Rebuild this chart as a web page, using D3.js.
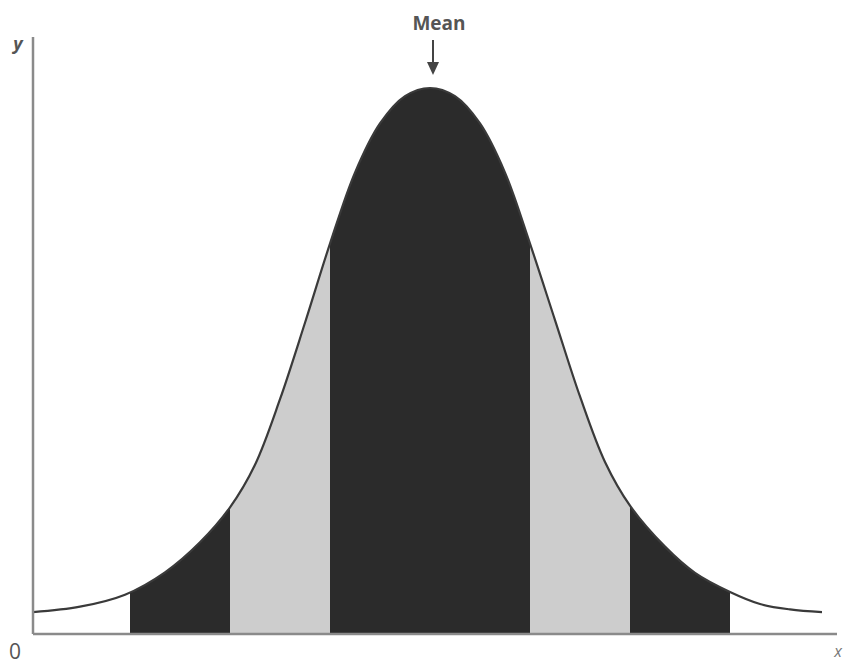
<!DOCTYPE html>
<html>
<head>
<meta charset="utf-8">
<script src="https://cdn.jsdelivr.net/npm/d3@7"></script>
<style>
  body { margin: 0; background: #fff; }
  svg { display: block; font-family: "Open Sans", "DejaVu Sans", sans-serif; }
</style>
</head>
<body>
<svg class="chart"></svg>
<script>
// curve: distance from the mean (in SD) and relative height
const curveZ = [-3.97, -3.5, -3.05, -2.65, -2.3, -2.0, -1.75, -1.5, -1.25, -1.0, -0.75, -0.5, -0.25, 0,
  0.25, 0.5, 0.75, 1.0, 1.25, 1.5, 1.75, 2.0, 2.35, 2.65, 3.0, 3.3, 3.6, 3.92];
const curveH = [0.040, 0.050, 0.072, 0.113, 0.168, 0.232, 0.310, 0.430, 0.570, 0.715, 0.845, 0.935, 0.985, 1.0,
  0.985, 0.935, 0.845, 0.715, 0.575, 0.435, 0.315, 0.235, 0.160, 0.112, 0.077, 0.055, 0.045, 0.040];

// shaded bands (SD edges) and their shades
const bandFrom = [-3, -2, -1, 1, 2];
const bandTo = [-2, -1, 1, 2, 3];
const bandShade = ['dark', 'light', 'dark', 'light', 'dark'];

const axisLabels = { origin: '0', x: 'x', y: 'y', mean: 'Mean' };

const width = 844;
const height = 664;

const svg = d3.select('svg.chart')
  .attr('width', width)
  .attr('height', height);

//Scales
const x = d3.scaleLinear().domain([-3.97, 4.07]).range([33, 837]);
const y = d3.scaleLinear().domain([0, 1]).range([634, 88]);

const points = curveZ.map((z, i) => ({ z: z, h: curveH[i] }));

const line = d3.line()
  .x(d => x(d.z))
  .y(d => y(d.h))
  .curve(d3.curveCatmullRom.alpha(0.5));

//Clip each band to the area under the curve
const area = d3.area()
  .x(d => x(d.z))
  .y0(y(0))
  .y1(d => y(d.h))
  .curve(d3.curveCatmullRom.alpha(0.5));

svg.append('clipPath')
  .attr('id', 'under')
  .append('path')
  .attr('d', area(points));

const colors = { dark: '#2b2b2b', light: '#cdcdcd' };

svg.append('g')
  .attr('clip-path', 'url(#under)')
  .selectAll('rect')
  .data(bandFrom.map((f, i) => ({ from: f, to: bandTo[i], shade: bandShade[i] })))
  .enter()
  .append('rect')
    .attr('x', d => x(d.from))
    .attr('width', d => x(d.to) - x(d.from))
    .attr('y', y(1.05))
    .attr('height', y(0) - y(1.05))
    .attr('fill', d => colors[d.shade]);

//Curve outline
svg.append('path')
  .attr('d', line(points))
  .attr('fill', 'none')
  .attr('stroke', '#3a3a3a')
  .attr('stroke-width', 2.2);

//Axes
svg.append('line')
  .attr('x1', x(-3.97)).attr('x2', x(-3.97))
  .attr('y1', 37).attr('y2', y(0))
  .attr('stroke', '#8a8a8a').attr('stroke-width', 2.5);

svg.append('line')
  .attr('x1', x(-3.97)).attr('x2', x(4.07))
  .attr('y1', y(0)).attr('y2', y(0))
  .attr('stroke', '#8a8a8a').attr('stroke-width', 2.5);

//Labels
svg.append('text')
  .attr('x', 15).attr('y', 659)
  .attr('text-anchor', 'middle')
  .attr('font-size', 21)
  .attr('fill', '#555')
  .text(axisLabels.origin);

svg.append('text')
  .attr('x', 838).attr('y', 657)
  .attr('text-anchor', 'middle')
  .attr('font-size', 16)
  .attr('font-style', 'italic')
  .attr('fill', '#777')
  .text(axisLabels.x);

svg.append('text')
  .attr('x', 18).attr('y', 50)
  .attr('text-anchor', 'middle')
  .attr('font-size', 18)
  .attr('font-style', 'italic')
  .attr('font-weight', 'bold')
  .attr('fill', '#555')
  .text(axisLabels.y);

svg.append('text')
  .attr('x', x(0) + 9).attr('y', 30)
  .attr('text-anchor', 'middle')
  .attr('font-size', 19)
  .attr('font-weight', 'bold')
  .attr('fill', '#555')
  .text(axisLabels.mean);

//Arrow pointing at the mean
svg.append('line')
  .attr('x1', x(0) + 3).attr('x2', x(0) + 3)
  .attr('y1', 40).attr('y2', 66)
  .attr('stroke', '#444').attr('stroke-width', 2);

svg.append('path')
  .attr('d', d3.line()([[x(0) - 3, 62], [x(0) + 9, 62], [x(0) + 3, 75]]))
  .attr('fill', '#444');
</script>
</body>
</html>
